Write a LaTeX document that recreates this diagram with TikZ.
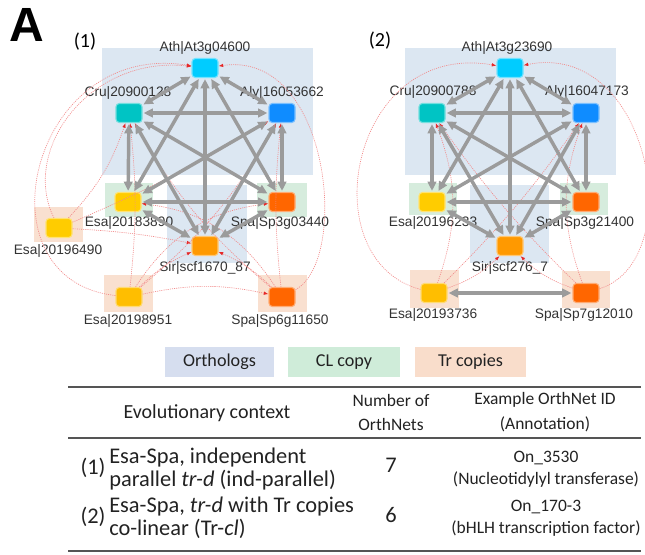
\documentclass[tikz,border=0pt]{standalone}
\usepackage{fontspec}
\setmainfont{Carlito}
\newfontfamily\arialfont{Liberation Sans}
\usepackage{tikz}
\usetikzlibrary{arrows.meta,positioning}

\definecolor{orthBg}{RGB}{220,231,242}
\definecolor{clBg}{RGB}{214,236,221}
\definecolor{trBg}{RGB}{249,224,208}
\definecolor{legOrth}{RGB}{214,222,239}
\definecolor{legCl}{RGB}{207,236,217}
\definecolor{legTr}{RGB}{249,221,203}
\definecolor{athBlue}{RGB}{0,204,255}
\definecolor{cruTeal}{RGB}{0,196,196}
\definecolor{alyBlue}{RGB}{15,140,255}
\definecolor{esaGold}{RGB}{255,204,0}
\definecolor{esaTr}{RGB}{255,190,0}
\definecolor{sirOrange}{RGB}{255,153,0}
\definecolor{spaRed}{RGB}{255,102,0}
\definecolor{edgeGray}{RGB}{155,155,155}
\definecolor{lineRed}{RGB}{242,140,140}
\definecolor{tipRed}{RGB}{230,40,40}
\definecolor{labelGray}{RGB}{51,51,51}
\definecolor{textDark}{RGB}{34,34,34}
\definecolor{ruleGray}{RGB}{85,85,85}

\begin{document}
\begin{tikzpicture}[x=0.75pt, y=-0.75pt,
    gene/.style={rectangle, rounded corners=2.5pt, minimum width=19.5pt,
      minimum height=14.25pt, inner sep=0pt, line width=0.8pt,
      fill=#1, draw=#1!55!white},
    lbl/.style={font=\arialfont\fontsize{10.3}{12}\selectfont, text=labelGray, inner sep=0pt},
    gedge/.style={{Triangle[length=7pt,width=6.5pt]}-{Triangle[length=7pt,width=6.5pt]},
      line width=2.6pt, draw=edgeGray, shorten <=0.8pt, shorten >=0.8pt},
    redge/.style={-{Latex[length=3.5pt,width=2.6pt,color=tipRed]}, draw=lineRed,
      dash pattern=on 0.8pt off 0.8pt, line width=0.5pt},
    legbox/.style={minimum height=22.5pt, inner sep=0pt, text=textDark,
      font=\fontsize{13.6}{16}\selectfont},
    tbl/.style={font=\fontsize{15}{18}\selectfont, inner sep=0pt, text=textDark},
    tblr/.style={font=\fontsize{16.8}{19}\selectfont, inner sep=0pt, text=textDark},
    tbls/.style={font=\fontsize{13.1}{16}\selectfont, inner sep=0pt, text=textDark},
    rule/.style={line width=1.2pt, draw=ruleGray}
  ]
  \useasboundingbox (0,0) rectangle (645,554);

  % panel tags
  \node[font=\arialfont\bfseries\fontsize{36}{36}\selectfont, inner sep=0pt] (tagA) at (27,25) {A};
  \node[font=\fontsize{15}{16}\selectfont, inner sep=0pt] (tag1) at (85,42) {(1)};
  \node[font=\fontsize{15}{16}\selectfont, inner sep=0pt] (tag2) at (380,41) {(2)};

  % backgrounds, panel (1)
  \fill[orthBg] (102,48) rectangle (313,175);
  \fill[orthBg] (167,185) rectangle (247,263);
  \fill[clBg] (105,183) rectangle (153,217);
  \fill[clBg] (257,183) rectangle (307,217);
  \fill[trBg] (34,207) rectangle (83,242);
  \fill[trBg] (104,275) rectangle (153,312);
  \fill[trBg] (258,275) rectangle (307,312);
  % backgrounds, panel (2)
  \fill[orthBg] (405,48) rectangle (616,175);
  \fill[orthBg] (470,185) rectangle (549,263);
  \fill[clBg] (409,183) rectangle (457,215);
  \fill[clBg] (560,183) rectangle (608,215);
  \fill[trBg] (410,270) rectangle (459,308);
  \fill[trBg] (562,271) rectangle (610,308);

  % genes, panel (1)
  \node[gene=athBlue] (ath1) at (205,68) {};
  \node[gene=cruTeal] (cru1) at (129,113) {};
  \node[gene=alyBlue] (aly1) at (282,113) {};
  \node[gene=esaGold] (esa1) at (128,202) {};
  \node[gene=spaRed] (spa1) at (282,202) {};
  \node[gene=sirOrange] (sir1) at (205,246) {};
  \node[gene=esaGold] (esaA1) at (59,228) {};
  \node[gene=esaTr] (esaB1) at (129,297) {};
  \node[gene=spaRed] (spaB1) at (282,297) {};
  \node[lbl] (ath1-l) at (205,48) {Ath|At3g04600};
  \node[lbl] (cru1-l) at (128,93) {Cru|20900128};
  \node[lbl] (aly1-l) at (282,93) {Aly|16053662};
  \node[lbl] (esa1-l) at (129,223) {Esa|20183890};
  \node[lbl] (spa1-l) at (280,223) {Spa|Sp3g03440};
  \node[lbl] (sir1-l) at (205,268) {Sir|scf1670\_87};
  \node[lbl] (esaA1-l) at (58,251) {Esa|20196490};
  \node[lbl] (esaB1-l) at (128,321) {Esa|20198951};
  \node[lbl] (spaB1-l) at (280,321) {Spa|Sp6g11650};

  % genes, panel (2)
  \node[gene=athBlue] (ath2) at (510,68) {};
  \node[gene=cruTeal] (cru2) at (432,113) {};
  \node[gene=alyBlue] (aly2) at (586,113) {};
  \node[gene=esaGold] (esa2) at (432,202) {};
  \node[gene=spaRed] (spa2) at (586,202) {};
  \node[gene=sirOrange] (sir2) at (510,246) {};
  \node[gene=esaTr] (esaT2) at (434,293) {};
  \node[gene=spaRed] (spaT2) at (586,293) {};
  \node[lbl] (ath2-l) at (507,48) {Ath|At3g23690};
  \node[lbl] (cru2-l) at (433,92) {Cru|20900788};
  \node[lbl] (aly2-l) at (587,92) {Aly|16047173};
  \node[lbl] (esa2-l) at (433,223) {Esa|20196233};
  \node[lbl] (spa2-l) at (585,223) {Spa|Sp3g21400};
  \node[lbl] (sir2-l) at (510,268) {Sir|scf276\_7};
  \node[lbl] (esaT2-l) at (433,315) {Esa|20193736};
  \node[lbl] (spaT2-l) at (584,315) {Spa|Sp7g12010};

  % red links from the Tr copies
  \draw[redge] (esaA1) .. controls (20,150) and (90,55) .. (ath1);
  \draw[redge] (esaB1) .. controls (-25,280) and (30,40) .. (ath1);
  \draw[redge] (spaB1) .. controls (350,260) and (330,50) .. (ath1);
  \foreach \s/\t/\b in {esaA1/cru1/-12, esaA1/aly1/-4, esaA1/sir1/4,
      esaB1/cru1/-6, esaB1/aly1/-10, esaB1/sir1/10, esaB1/spa1/25, esaB1/spaB1/12,
      spaB1/cru1/10, spaB1/aly1/6, spaB1/sir1/-10, spaB1/esa1/-25}
    \draw[redge] (\s) to[bend left=\b] (\t);
  \draw[redge] (esaT2) .. controls (310,260) and (350,40) .. (ath2);
  \draw[redge] (spaT2) .. controls (690,260) and (650,40) .. (ath2);
  \foreach \s/\t/\b in {esaT2/cru2/-20, esaT2/aly2/-5, esaT2/sir2/-12,
      spaT2/cru2/5, spaT2/aly2/20, spaT2/sir2/12}
    \draw[redge] (\s) to[bend left=\b] (\t);

  % gray links between orthologs
  \foreach \p in {1,2}
    \foreach \a/\b in {ath/cru, ath/aly, ath/esa, ath/spa, ath/sir, cru/aly, cru/esa,
        cru/spa, cru/sir, aly/esa, aly/spa, aly/sir, esa/spa, esa/sir, spa/sir}
      \draw[gedge] (\a\p) -- (\b\p);
  \draw[gedge] (esaT2) -- (spaT2);

  % legend
  \node[legbox, fill=legOrth, minimum width=81.75pt] (legOrth) at (219.5,362) {Orthologs};
  \node[legbox, fill=legCl, minimum width=84pt] (legCl) at (344,362) {CL copy};
  \node[legbox, fill=legTr, minimum width=83.25pt] (legTr) at (470.5,362) {Tr copies};

  % table
  \draw[rule] (68,387) -- (641,387);
  \draw[rule] (68,438) -- (641,438);
  \draw[rule] (68,551) -- (641,551);
  \node[tbl] (hCtx) at (207,413) {Evolutionary context};
  \node[tbls] (hNum1) at (391,400) {Number of};
  \node[tbls] (hNum2) at (391,424) {OrthNets};
  \node[tbls] (hEx1) at (545,400) {Example OrthNet ID};
  \node[tbls] (hEx2) at (545,424) {(Annotation)};
  \node[tblr] (r1) at (93,468) {(1)};
  \node[tblr, anchor=west] (r1a) at (109,458) {Esa-Spa, independent};
  \node[tblr, anchor=west] (r1b) at (109,480) {parallel \textit{tr-d} (ind-parallel)};
  \node[tblr] (r1n) at (391,465) {7};
  \node[tbls] (r1e) at (546,458) {On\_3530};
  \node[tbls] (r1f) at (546,480) {(Nucleotidylyl transferase)};
  \node[tblr] (r2) at (93,517) {(2)};
  \node[tblr, anchor=west] (r2a) at (109,507) {Esa-Spa, \textit{tr-d} with Tr copies};
  \node[tblr, anchor=west] (r2b) at (109,529) {co-linear (Tr-\textit{cl})};
  \node[tblr] (r2n) at (391,515) {6};
  \node[tbls] (r2e) at (546,507) {On\_170-3};
  \node[tbls] (r2f) at (546,529) {(bHLH transcription factor)};
\end{tikzpicture}
\end{document}
